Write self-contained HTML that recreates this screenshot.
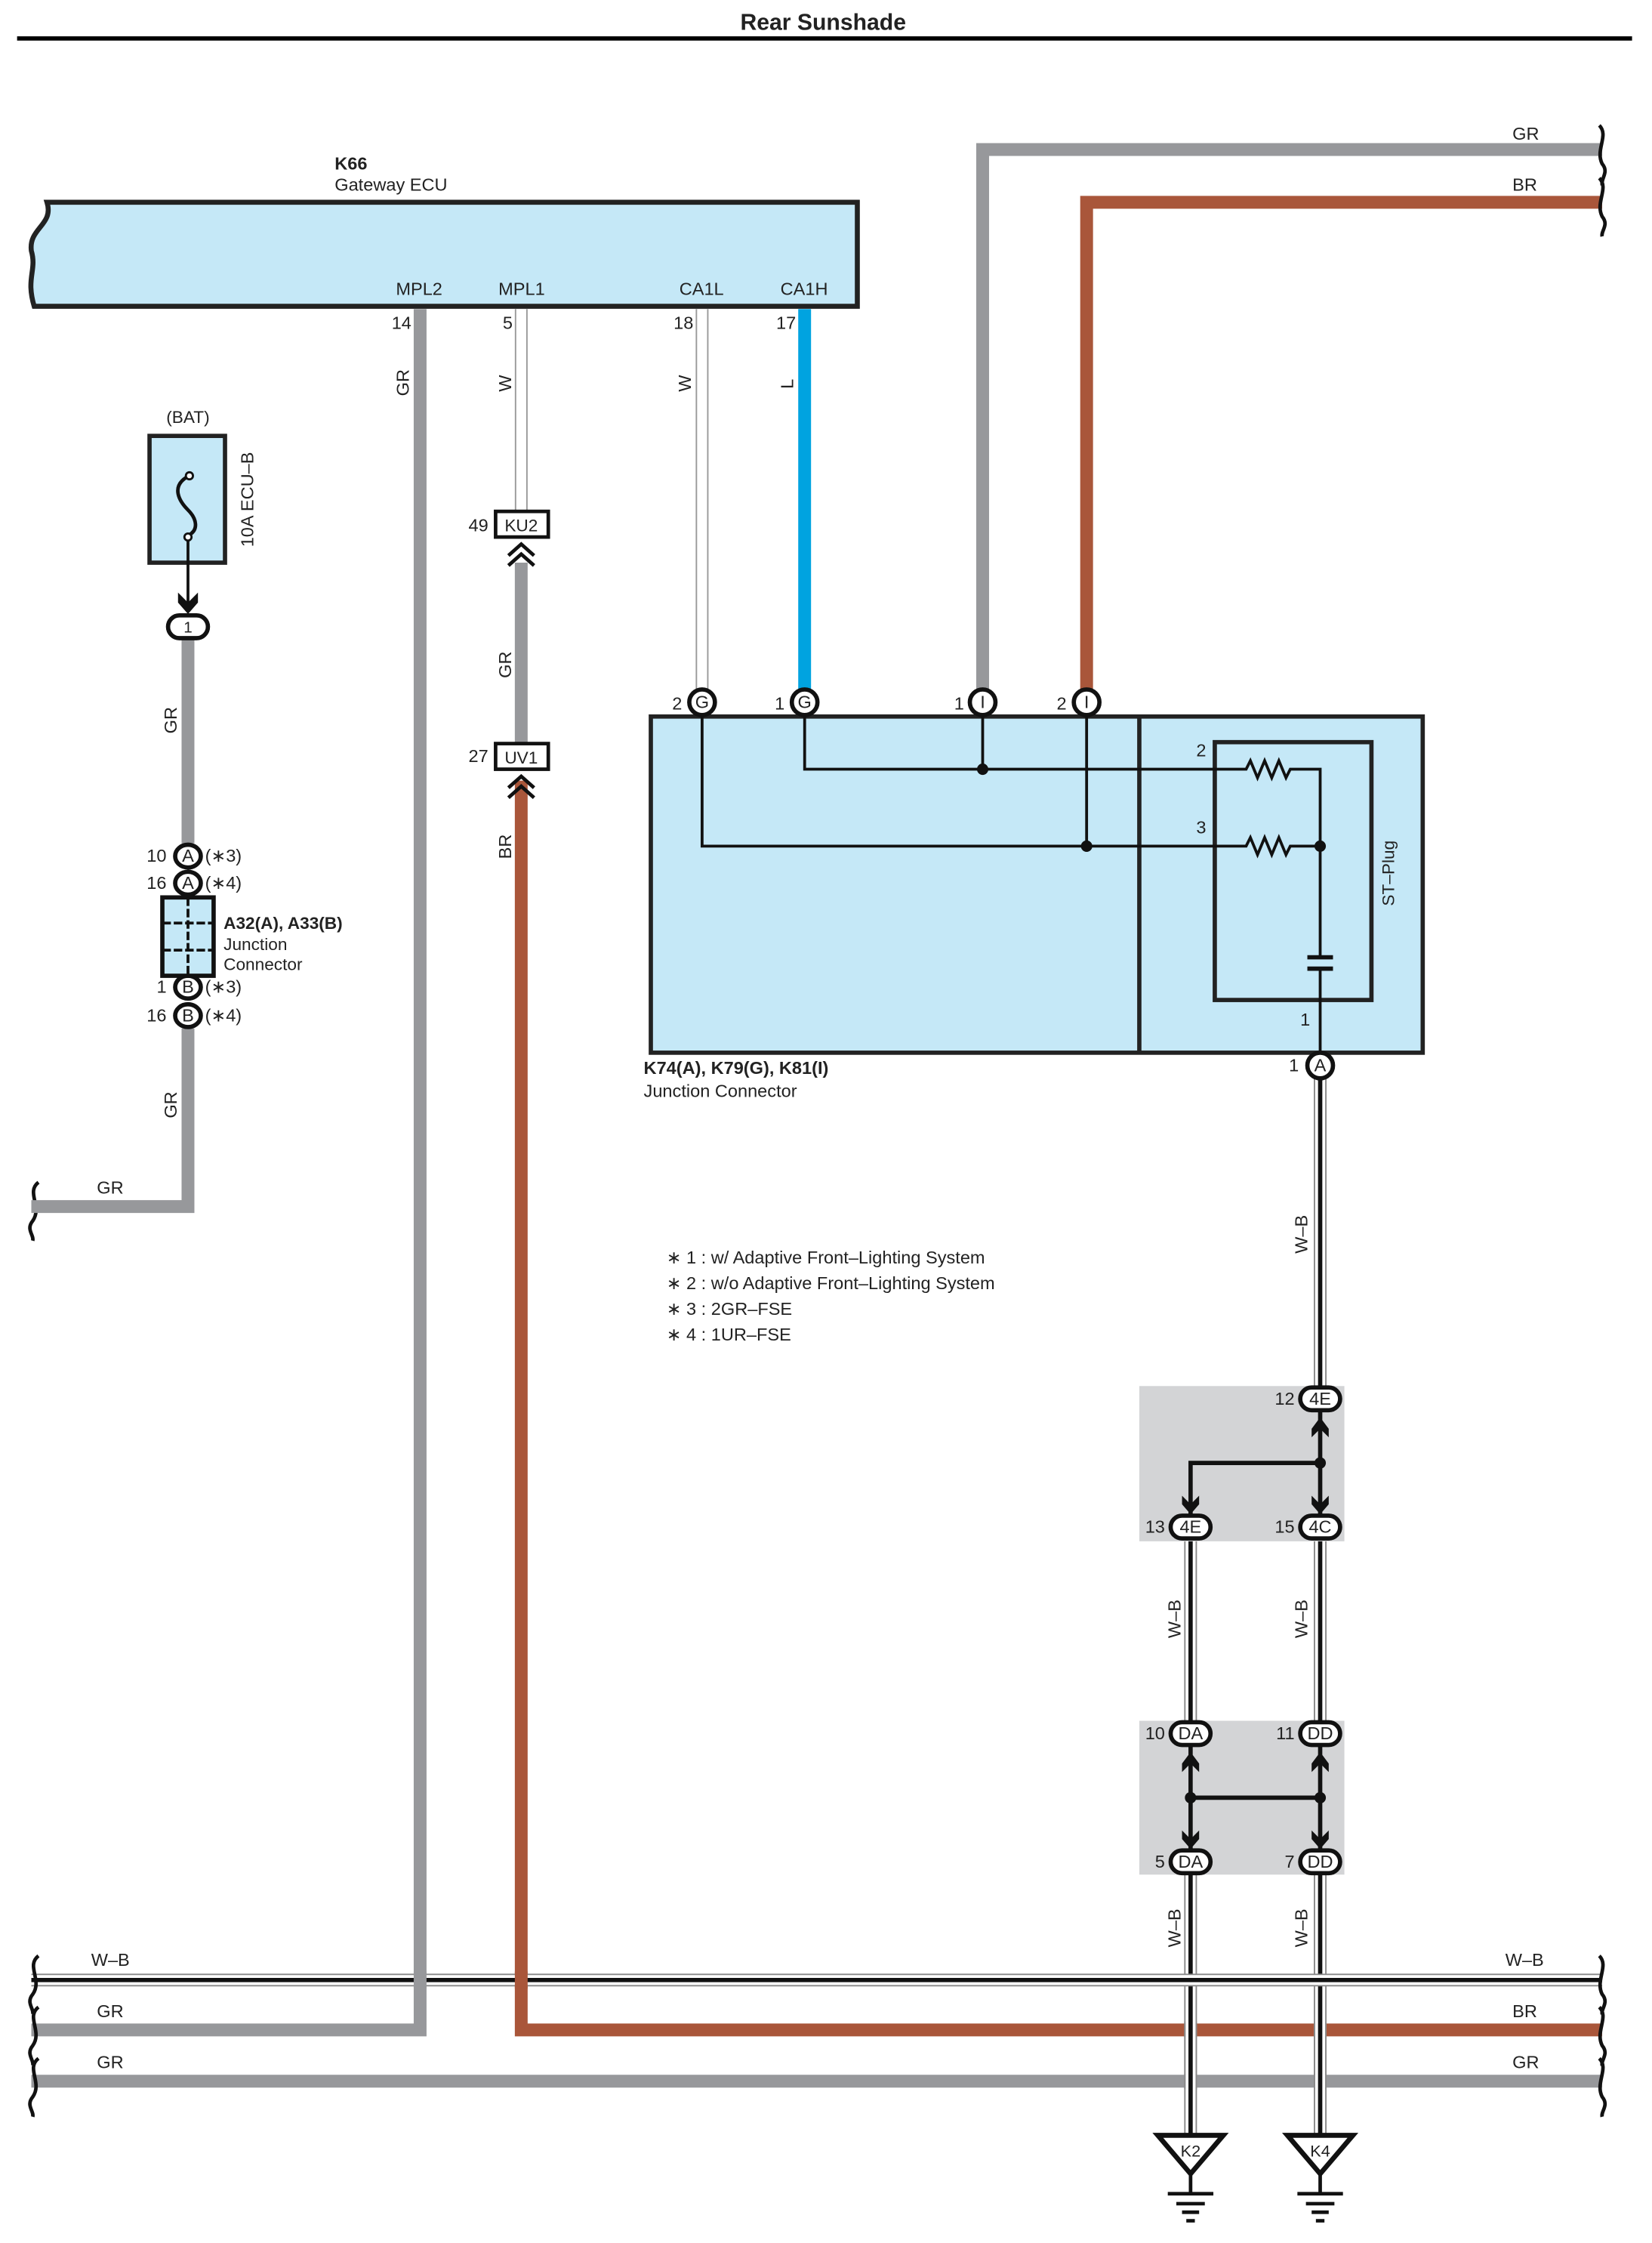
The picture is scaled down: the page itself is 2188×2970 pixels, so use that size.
<!DOCTYPE html>
<html><head><meta charset="utf-8"><style>
html,body{margin:0;padding:0;background:#fff}
svg{display:block}
text{font-family:"Liberation Sans Narrow","Liberation Sans",sans-serif;font-size:12.5px;fill:#222}
.b{font-weight:bold}
</style></head><body>
<svg width="2188" height="2970" viewBox="0 0 1160 1574.6" preserveAspectRatio="none" xmlns="http://www.w3.org/2000/svg">
<rect width="1160" height="1575" fill="#fff"/>
<text x="578" y="21" text-anchor="middle" class="b" style="font-size:16px;font-family:'Liberation Sans',sans-serif">Rear Sunshade</text>
<rect x="12" y="25.5" width="1134" height="3" fill="#000"/>

<!-- top right wires -->
<path d="M690 485 V105 H1125" fill="none" stroke="#97989b" stroke-width="9"/>
<path d="M763 485 V142 H1125" fill="none" stroke="#a9563a" stroke-width="9"/>
<text x="1062" y="98">GR</text><text x="1062" y="134">BR</text>

<!-- ECU -->
<path d="M33 142 H602 V215 H24 C18 195 26 190 22 176 C20 160 38 158 33 142 Z" fill="#c5e8f7" stroke="#222" stroke-width="3.5"/>
<text x="235" y="119" class="b">K66</text>
<text x="235" y="134">Gateway ECU</text>
<text x="278" y="207">MPL2</text><text x="350" y="207">MPL1</text>
<text x="477" y="207">CA1L</text><text x="548" y="207">CA1H</text>

<!-- GR MPL2 -->
<path d="M295 217 V1425 H22" fill="none" stroke="#97989b" stroke-width="9"/>
<text x="275" y="231">14</text>
<text transform="translate(287,278) rotate(-90)">GR</text>
<!-- MPL1 W -->
<line x1="366" y1="217" x2="366" y2="359" stroke="#999" stroke-width="9"/>
<line x1="366" y1="217" x2="366" y2="359" stroke="#fff" stroke-width="7"/>
<text x="353" y="231">5</text>
<text transform="translate(359,275) rotate(-90)">W</text>
<line x1="366" y1="395" x2="366" y2="522" stroke="#97989b" stroke-width="9"/>
<text transform="translate(359,476) rotate(-90)">GR</text>
<path d="M366 548 V1425 H1125" fill="none" stroke="#a9563a" stroke-width="9"/>
<text transform="translate(359,603) rotate(-90)">BR</text>
<!-- KU2 / UV1 -->
<rect x="348" y="359" width="37" height="18" fill="#fff" stroke="#111" stroke-width="2.5"/>
<text x="366" y="373" text-anchor="middle" style="font-family:'Liberation Sans',sans-serif;font-size:12px">KU2</text>
<text x="329" y="373">49</text>
<path d="M357 390 L366 382 L375 390 M357 397 L366 389 L375 397" fill="none" stroke="#111" stroke-width="2.5"/>
<rect x="348" y="522" width="37" height="18" fill="#fff" stroke="#111" stroke-width="2.5"/>
<text x="366" y="536" text-anchor="middle" style="font-family:'Liberation Sans',sans-serif;font-size:12px">UV1</text>
<text x="329" y="535">27</text>
<path d="M357 553 L366 545 L375 553 M357 560 L366 552 L375 560" fill="none" stroke="#111" stroke-width="2.5"/>

<!-- CA1L W -->
<line x1="493" y1="217" x2="493" y2="484" stroke="#999" stroke-width="9"/>
<line x1="493" y1="217" x2="493" y2="484" stroke="#fff" stroke-width="7"/>
<text x="473" y="231">18</text>
<text transform="translate(485,275) rotate(-90)">W</text>
<!-- CA1H L -->
<line x1="565" y1="217" x2="565" y2="484" stroke="#00a3e0" stroke-width="9"/>
<text x="545" y="231">17</text>
<text transform="translate(557,273) rotate(-90)">L</text>

<!-- Junction connector K74 -->
<rect x="457" y="503" width="542" height="236" fill="#c5e8f7" stroke="#222" stroke-width="3"/>
<line x1="800" y1="503" x2="800" y2="739" stroke="#222" stroke-width="3"/>
<rect x="853" y="521" width="110" height="181" fill="none" stroke="#222" stroke-width="3"/>
<path d="M565 503 V540 H875 l3 -6 l5 12 l5 -12 l5 12 l5 -12 l5 12 l3 -6 H927 V672 M927 680 V739" fill="none" stroke="#111" stroke-width="2"/>
<path d="M493 503 V594 H875 l3 -6 l5 12 l5 -12 l5 12 l5 -12 l5 12 l3 -6 H927" fill="none" stroke="#111" stroke-width="2"/>
<line x1="690" y1="503" x2="690" y2="540" stroke="#111" stroke-width="2"/>
<line x1="763" y1="503" x2="763" y2="594" stroke="#111" stroke-width="2"/>
<circle cx="690" cy="540" r="4" fill="#111"/><circle cx="763" cy="594" r="4" fill="#111"/><circle cx="927" cy="594" r="4" fill="#111"/>
<path d="M918 672 H936 M918 680 H936" stroke="#111" stroke-width="3"/>
<text x="840" y="531">2</text><text x="840" y="585">3</text><text x="913" y="720">1</text>
<text transform="translate(979,636) rotate(-90)" style="font-family:'Liberation Sans',sans-serif;font-size:12px">ST–Plug</text>
<g stroke="#111" stroke-width="3" fill="#fff">
<ellipse cx="493" cy="493" rx="9" ry="9"/><ellipse cx="565" cy="493" rx="9" ry="9"/>
<ellipse cx="690" cy="493" rx="9" ry="9"/><ellipse cx="763" cy="493" rx="9" ry="9"/>
</g>
<g style="font-family:'Liberation Sans',sans-serif;font-size:11.5px" text-anchor="middle">
<text x="493" y="497">G</text><text x="565" y="497">G</text><text x="690" y="497">I</text><text x="763" y="497">I</text>
</g>
<text x="472" y="498">2</text><text x="544" y="498">1</text><text x="670" y="498">1</text><text x="742" y="498">2</text>
<text x="452" y="754" class="b">K74(A), K79(G), K81(I)</text>
<text x="452" y="770">Junction Connector</text>

<!-- gray splice boxes -->
<rect x="800" y="973" width="144" height="109" fill="#d3d4d6"/>
<rect x="800" y="1208" width="144" height="108" fill="#d3d4d6"/>

<!-- W-B wires vertical -->
<g fill="none">
<path d="M927 757 V973 M836 1082 V1208 M927 1082 V1208 M836 1316 V1498 M927 1316 V1498" stroke="#888" stroke-width="9"/>
<path d="M927 757 V973 M836 1082 V1208 M927 1082 V1208 M836 1316 V1498 M927 1316 V1498" stroke="#fff" stroke-width="7"/>
<path d="M927 757 V973 M836 1082 V1208 M927 1082 V1208 M836 1316 V1498 M927 1316 V1498" stroke="#111" stroke-width="3"/>
</g>
<text transform="translate(918,880) rotate(-90)">W–B</text>
<text transform="translate(829,1150) rotate(-90)">W–B</text>
<text transform="translate(918,1150) rotate(-90)">W–B</text>
<text transform="translate(829,1367) rotate(-90)">W–B</text>
<text transform="translate(918,1367) rotate(-90)">W–B</text>

<!-- splice internals -->
<g stroke="#111" stroke-width="3" fill="none">
<path d="M927 990 V1064 M927 1027 H836 V1064"/>
<path d="M836 1225 V1299 M927 1225 V1299 M836 1262 H927"/>
</g>
<g fill="#111">
<circle cx="927" cy="1027" r="4"/><circle cx="836" cy="1262" r="4"/><circle cx="927" cy="1262" r="4"/>
<path d="M921 1003 L927 995 L933 1003 L933 1009 L927 1003 L921 1009Z"/>
<path d="M830 1050 L836 1056 L842 1050 L842 1056 L836 1063 L830 1056Z"/>
<path d="M921 1050 L927 1056 L933 1050 L933 1056 L927 1063 L921 1056Z"/>
<path d="M830 1238 L836 1230 L842 1238 L842 1244 L836 1238 L830 1244Z"/>
<path d="M921 1238 L927 1230 L933 1238 L933 1244 L927 1238 L921 1244Z"/>
<path d="M830 1285 L836 1291 L842 1285 L842 1291 L836 1298 L830 1291Z"/>
<path d="M921 1285 L927 1291 L933 1285 L933 1291 L927 1298 L921 1291Z"/>
</g>
<g stroke="#111" stroke-width="3" fill="#fff">
<ellipse cx="927" cy="748" rx="9" ry="9"/>
<rect x="913" y="974" width="28" height="16" rx="8"/>
<rect x="822" y="1064" width="28" height="16" rx="8"/><rect x="913" y="1064" width="28" height="16" rx="8"/>
<rect x="822" y="1209" width="28" height="16" rx="8"/><rect x="913" y="1209" width="28" height="16" rx="8"/>
<rect x="822" y="1299" width="28" height="16" rx="8"/><rect x="913" y="1299" width="28" height="16" rx="8"/>
</g>
<g style="font-family:'Liberation Sans',sans-serif;font-size:11.5px" text-anchor="middle">
<text x="927" y="752">A</text>
<text x="927" y="986">4E</text><text x="836" y="1076">4E</text><text x="927" y="1076">4C</text>
<text x="836" y="1221">DA</text><text x="927" y="1221">DD</text><text x="836" y="1311">DA</text><text x="927" y="1311">DD</text>
</g>
<g style="font-family:'Liberation Sans',sans-serif;font-size:12px" text-anchor="end">
<text x="912" y="752">1</text><text x="909" y="986">12</text><text x="818" y="1076">13</text><text x="909" y="1076">15</text>
<text x="818" y="1221">10</text><text x="909" y="1221">11</text><text x="818" y="1311">5</text><text x="909" y="1311">7</text>
</g>

<!-- grounds -->
<g stroke="#111" fill="#fff" stroke-width="3.5" stroke-linejoin="miter">
<path d="M813 1499 H859 L836 1526 Z"/><path d="M904 1499 H950 L927 1526 Z"/>
</g>
<g stroke="#111" stroke-width="2.5">
<path d="M836 1526 V1540 M820 1540 H852 M826 1547 H846 M830 1553 H842 M833 1559 H839"/>
<path d="M927 1526 V1540 M911 1540 H943 M917 1547 H937 M921 1553 H933 M924 1559 H930"/>
</g>
<text x="836" y="1514" text-anchor="middle" style="font-family:'Liberation Sans',sans-serif;font-size:11.5px">K2</text>
<text x="927" y="1514" text-anchor="middle" style="font-family:'Liberation Sans',sans-serif;font-size:11.5px">K4</text>

<!-- bottom buses -->
<line x1="22" y1="1390" x2="1125" y2="1390" stroke="#888" stroke-width="9"/>
<line x1="22" y1="1390" x2="1125" y2="1390" stroke="#fff" stroke-width="7"/>
<line x1="22" y1="1390" x2="1125" y2="1390" stroke="#111" stroke-width="3"/>
<line x1="295" y1="1384" x2="295" y2="1396" stroke="#97989b" stroke-width="9"/>
<line x1="366" y1="1384" x2="366" y2="1396" stroke="#a9563a" stroke-width="9"/>
<g stroke="#888" stroke-width="9"><line x1="836" y1="1420" x2="836" y2="1430"/><line x1="927" y1="1420" x2="927" y2="1430"/><line x1="836" y1="1456" x2="836" y2="1466"/><line x1="927" y1="1456" x2="927" y2="1466"/></g>
<line x1="22" y1="1461" x2="1125" y2="1461" stroke="#97989b" stroke-width="9"/>
<g stroke="#fff" stroke-width="7"><line x1="836" y1="1419" x2="836" y2="1467"/><line x1="927" y1="1419" x2="927" y2="1467"/></g>
<g stroke="#888" stroke-width="1"><line x1="832" y1="1419" x2="832" y2="1467"/><line x1="840" y1="1419" x2="840" y2="1467"/><line x1="923" y1="1419" x2="923" y2="1467"/><line x1="931" y1="1419" x2="931" y2="1467"/></g>
<g stroke="#111" stroke-width="3"><line x1="836" y1="1419" x2="836" y2="1467"/><line x1="927" y1="1419" x2="927" y2="1467"/></g>
<text x="64" y="1380">W–B</text><text x="1057" y="1380">W–B</text>
<text x="68" y="1416">GR</text><text x="1062" y="1416">BR</text>
<text x="68" y="1452">GR</text><text x="1062" y="1452">GR</text>

<!-- wavy ends -->
<g fill="none" stroke="#111" stroke-width="2.5">
<path d="M27 1373 C18 1380 30 1390 23 1400 C18 1406 24 1410 23 1414"/>
<path d="M27 1409 C18 1416 30 1426 23 1436 C18 1442 24 1446 23 1450"/>
<path d="M27 1445 C18 1452 30 1462 23 1472 C18 1478 24 1482 23 1486"/>
<path d="M27 830 C18 837 30 847 23 857 C18 863 24 867 23 871"/>
<path d="M1123 1373 C1130 1380 1120 1390 1125 1400 C1130 1406 1124 1410 1125 1414"/>
<path d="M1123 1409 C1130 1416 1120 1426 1125 1436 C1130 1442 1124 1446 1125 1450"/>
<path d="M1123 1445 C1130 1452 1120 1462 1125 1472 C1130 1478 1124 1482 1125 1486"/>
<path d="M1123 88 C1130 95 1120 105 1125 115 C1130 121 1124 125 1125 130"/>
<path d="M1123 125 C1130 132 1120 142 1125 152 C1130 158 1124 162 1125 166"/>
</g>

<!-- left BAT section -->
<text x="132" y="297" text-anchor="middle" style="font-family:'Liberation Sans',sans-serif;font-size:12px">(BAT)</text>
<rect x="105" y="306" width="53" height="89" fill="#c5e8f7" stroke="#222" stroke-width="3"/>
<path d="M131 335 C120 342 126 352 132 358 C138 364 140 372 132 376" fill="none" stroke="#111" stroke-width="2.5"/>
<circle cx="133" cy="334" r="2.5" fill="#fff" stroke="#111" stroke-width="1.5"/>
<circle cx="132" cy="377" r="2.5" fill="#fff" stroke="#111" stroke-width="1.5"/>
<line x1="132" y1="379" x2="132" y2="424" stroke="#111" stroke-width="2"/>
<path d="M125 416 L132 423 L139 416 L139 423 L132 431 L125 423Z" fill="#111"/>
<text transform="translate(178,384) rotate(-90)">10A ECU–B</text>
<path d="M132 449 V592 M132 722 V847 H22" fill="none" stroke="#97989b" stroke-width="9"/>
<rect x="118" y="432" width="28" height="16" rx="8" fill="#fff" stroke="#111" stroke-width="3"/>
<text x="132" y="444" text-anchor="middle" style="font-family:'Liberation Sans',sans-serif;font-size:11px">1</text>
<text transform="translate(124,515) rotate(-90)">GR</text>
<text transform="translate(124,785) rotate(-90)">GR</text>
<text x="68" y="838">GR</text>
<g stroke="#111" stroke-width="3" fill="#fff">
<ellipse cx="132" cy="601" rx="9" ry="8"/><ellipse cx="132" cy="620" rx="9" ry="8"/>
<ellipse cx="132" cy="693" rx="9" ry="8"/><ellipse cx="132" cy="713" rx="9" ry="8"/>
</g>
<rect x="114" y="630" width="36" height="55" fill="#c5e8f7" stroke="#111" stroke-width="3"/>
<path d="M132 630 V685 M114 648 H150 M114 667 H150" stroke="#111" stroke-width="2" stroke-dasharray="6 2"/>
<g style="font-family:'Liberation Sans',sans-serif;font-size:11px" text-anchor="middle">
<text x="132" y="605">A</text><text x="132" y="624">A</text><text x="132" y="697">B</text><text x="132" y="717">B</text>
</g>
<g style="font-family:'Liberation Sans',sans-serif;font-size:12px">
<text x="103" y="605">10</text><text x="103" y="624">16</text><text x="110" y="697">1</text><text x="103" y="717">16</text>
<text x="144" y="605">(∗3)</text><text x="144" y="624">(∗4)</text><text x="144" y="697">(∗3)</text><text x="144" y="717">(∗4)</text>
</g>
<text x="157" y="652" class="b" style="font-family:'Liberation Sans',sans-serif;font-size:12px">A32(A), A33(B)</text>
<text x="157" y="667" style="font-family:'Liberation Sans',sans-serif;font-size:12px">Junction</text>
<text x="157" y="681" style="font-family:'Liberation Sans',sans-serif;font-size:12px">Connector</text>

<!-- notes -->
<g style="font-size:13px">
<text x="468" y="887">∗ 1 : w/ Adaptive Front–Lighting System</text>
<text x="468" y="905">∗ 2 : w/o Adaptive Front–Lighting System</text>
<text x="468" y="923">∗ 3 : 2GR–FSE</text>
<text x="468" y="941">∗ 4 : 1UR–FSE</text>
</g>
</svg>
</body></html>
